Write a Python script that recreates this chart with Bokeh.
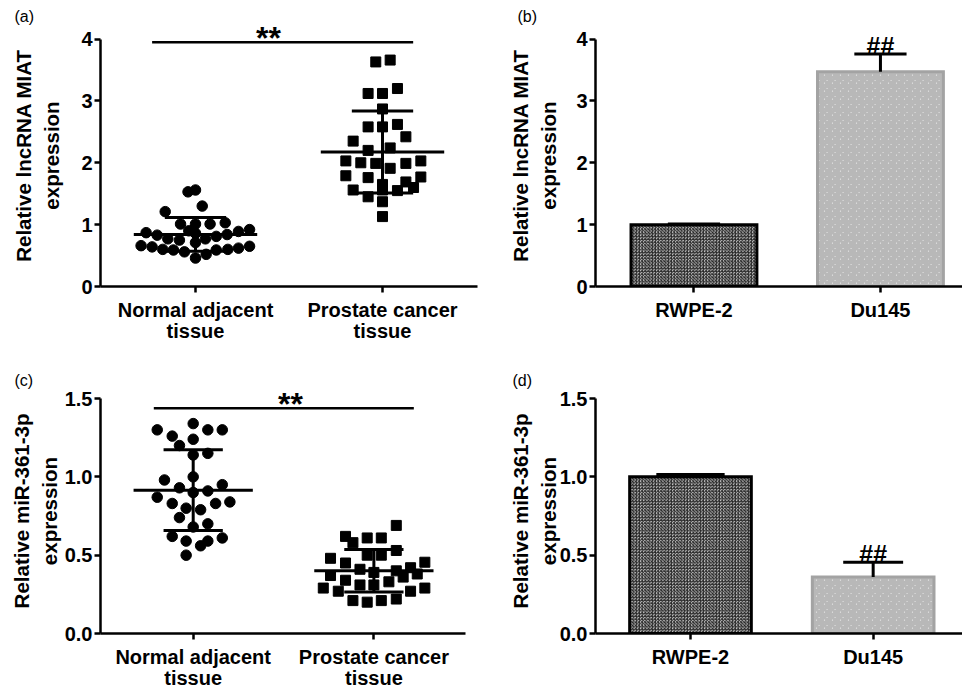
import numpy as np
from bokeh.plotting import figure
from bokeh.layouts import column, row
from bokeh.models import Range1d, FixedTicker, Label
from bokeh.embed import file_html
from bokeh.resources import INLINE

FONT = "Liberation Sans"

# ---------------- data ----------------
tissue_groups = ["Normal adjacent\ntissue", "Prostate cancer\ntissue"]
cell_lines = ["RWPE-2", "Du145"]
miat_ticks = [0, 1, 2, 3, 4]
miat_tick_labels = ["0", "1", "2", "3", "4"]
mir_ticks = [0.0, 0.5, 1.0, 1.5]
mir_tick_labels = ["0.0", "0.5", "1.0", "1.5"]
miat_ylabel = "Relative lncRNA MIAT\nexpression"
mir_ylabel = "Relative miR-361-3p\nexpression"

# (a) lncRNA MIAT in tissues
miat_normal = [1.53, 1.56, 1.30, 1.21, 1.01, 1.01, 1.01, 1.03, 0.90,
               0.87, 0.83, 0.77, 0.75, 0.86, 0.77, 0.81, 0.84, 0.89, 0.92,
               0.66, 0.64, 0.60, 0.59, 0.56, 0.71, 0.52, 0.59, 0.60, 0.62, 0.65, 0.46]
miat_normal_dodge = [-0.040, 0.0, 0.036, -0.162, -0.080, 0.0, 0.078, 0.159, -0.036,
                     -0.264, -0.205, -0.148, -0.086, 0.0, 0.053, 0.111, 0.169, 0.230, 0.289,
                     -0.291, -0.232, -0.175, -0.118, -0.059, 0.0, 0.057, 0.111, 0.173, 0.230, 0.289, 0.0]
miat_cancer = [3.63, 3.66, 3.12, 3.12, 3.20, 2.87, 2.58, 2.58, 2.62, 2.35, 2.42, 2.20, 2.24,
               2.03, 2.00, 1.99, 1.91, 1.99, 2.03, 1.79, 1.76, 1.65, 1.69, 1.77,
               1.56, 1.45, 1.56, 1.55, 1.60, 1.37, 1.13]
miat_cancer_dodge = [-0.036, 0.041, -0.077, 0.0, 0.080, 0.0, -0.077, 0.0, 0.080, -0.157, 0.125, -0.077, 0.041,
                     -0.196, -0.116, -0.036, 0.041, 0.125, 0.205, -0.196, -0.077, 0.0, 0.125, 0.205,
                     -0.157, -0.077, 0.0, 0.080, 0.166, 0.0, 0.0]

# (c) miR-361-3p in tissues
mir_normal = [1.34, 1.30, 1.26, 1.24, 1.30, 1.30, 1.20, 1.14, 1.15, 0.98, 1.00, 0.93, 0.91, 0.95, 0.90,
              0.87, 0.83, 0.80, 0.79, 0.83, 0.84, 0.74, 0.70, 0.68, 0.62, 0.59, 0.56, 0.59, 0.61, 0.50]
mir_normal_dodge = [0.0, -0.199, -0.116, 0.0, 0.081, 0.161, -0.076, 0.0, 0.081, -0.159, 0.0, -0.076, 0.081, 0.161, 0.0,
                    -0.199, -0.116, -0.039, 0.041, 0.124, 0.203, -0.076, 0.081, 0.0, -0.116, -0.039, 0.041, 0.081, 0.161, -0.039]
mir_cancer = [0.69, 0.62, 0.58, 0.61, 0.61, 0.53, 0.50, 0.50, 0.48, 0.45, 0.455, 0.41, 0.39, 0.40, 0.42,
              0.37, 0.34, 0.33, 0.36, 0.38, 0.29, 0.27, 0.31, 0.31, 0.27, 0.29, 0.21, 0.20, 0.21, 0.22]
mir_cancer_dodge = [0.124, -0.157, -0.116, -0.037, 0.041, 0.124, -0.037, 0.041, -0.240, -0.157, 0.282, -0.077, 0.0, 0.124, 0.203,
                    -0.240, -0.157, 0.083, 0.162, 0.240, -0.280, -0.197, -0.077, 0.0, 0.203, 0.282, -0.116, -0.037, 0.041, 0.124]

# (b), (d) cell lines: mean and error
miat_cell_mean = [1.00, 3.47]
miat_cell_err = [0.01, 0.29]
mir_cell_mean = [1.00, 0.36]
mir_cell_err = [0.015, 0.095]

# ---------------- layout geometry (page pixels) ----------------
A = dict(w=480, h=345, bl=100, br=3, bt=24, bb=58, xr=(0.492, 2.508), yr=(0, 4.235), std=15, tag_off=-86)
B = dict(w=482, h=345, bl=115, br=0, bt=24, bb=58, xr=(0.472, 2.440), yr=(0, 4.235), std=13, tag_off=-78)
C = dict(w=480, h=347, bl=100, br=15, bt=43, bb=52, xr=(0.487, 2.507), yr=(0, 1.564), std=1, tag_off=-86)
D = dict(w=482, h=347, bl=115, br=0, bt=43, bb=52, xr=(0.480, 2.489), yr=(0, 1.564), std=-3, tag_off=-83)


def dpx2dy(s, d):
    fh = s['h'] - s['bt'] - s['bb']
    return d * (s['yr'][1] - s['yr'][0]) / fh


def make_fig(s, tag, yticks, ylabels, xlabels, ybounds, ylabel):
    p = figure(width=s['w'], height=s['h'], x_range=Range1d(*s['xr']), y_range=Range1d(*s['yr']),
               output_backend="svg", toolbar_location=None, title=tag,
               min_border_left=s['bl'], min_border_right=s['br'],
               min_border_top=s['bt'], min_border_bottom=s['bb'])
    p.grid.visible = False
    p.outline_line_color = None
    p.background_fill_color = "white"
    p.border_fill_color = "white"
    p.title.align = "left"
    p.title.offset = s['tag_off']
    p.title.standoff = 0
    p.title.text_font = FONT
    p.title.text_font_style = "normal"
    p.title.text_font_size = "16px"
    p.title.text_color = "black"
    for ax in (p.xaxis[0], p.yaxis[0]):
        ax.axis_line_width = 2.5
        ax.axis_line_color = "black"
        ax.major_tick_line_width = 2.5
        ax.major_tick_line_color = "black"
        ax.major_tick_out = 6
        ax.major_tick_in = 0
        ax.minor_tick_line_color = None
        ax.major_label_text_font = FONT
        ax.major_label_text_font_style = "bold"
        ax.major_label_text_font_size = "20px"
        ax.major_label_text_color = "black"
    p.yaxis.ticker = FixedTicker(ticks=list(yticks))
    p.yaxis.major_label_overrides = {t: l for t, l in zip(yticks, ylabels)}
    p.yaxis.bounds = ybounds
    p.yaxis.major_label_standoff = 2
    p.yaxis.axis_label = ylabel
    p.yaxis.axis_label_text_font = FONT
    p.yaxis.axis_label_text_font_style = "bold"
    p.yaxis.axis_label_text_font_size = "20.5px"
    p.yaxis.axis_label_text_color = "black"
    p.yaxis.axis_label_text_line_height = 1.22
    p.yaxis.axis_label_standoff = s['std']
    p.xaxis.ticker = FixedTicker(ticks=[1, 2])
    p.xaxis.major_label_overrides = {1: xlabels[0], 2: xlabels[1]}
    p.xaxis.major_label_standoff = 6
    p.xaxis.major_label_text_line_height = 0.98
    return p


def add_text(p, x, y, text, size, baseline="middle"):
    p.add_layout(Label(x=x, y=y, text=text, text_font=FONT, text_font_size=size,
                       text_font_style="bold", text_color="black",
                       text_align="center", text_baseline=baseline))


def scatter_panel(s, tag, normal, ndodge, cancer, cdodge, yticks, ylabels, ybounds, ylabel,
                  sig_x, sig_y, star_x):
    p = make_fig(s, tag, yticks, ylabels, tissue_groups, ybounds, ylabel)
    for center, vals, dodge, marker, size in ((1, normal, ndodge, "circle", 10.5),
                                              (2, cancer, cdodge, "square", 10)):
        v = np.array(vals)
        xs = center + np.array(dodge)
        p.scatter(xs, v, marker=marker, size=size, fill_color="black", line_color="black")
        m = v.mean()
        sd = v.std(ddof=1)
        p.segment(x0=[center - 0.33], y0=[m], x1=[center + 0.33], y1=[m], line_width=3, line_color="black")
        p.segment(x0=[center - 0.164, center - 0.164], y0=[m + sd, m - sd],
                  x1=[center + 0.164, center + 0.164], y1=[m + sd, m - sd], line_width=3, line_color="black")
        p.segment(x0=[center], y0=[m - sd], x1=[center], y1=[m + sd], line_width=3, line_color="black")
    p.segment(x0=[sig_x[0]], y0=[sig_y], x1=[sig_x[1]], y1=[sig_y], line_width=2.5, line_color="black")
    add_text(p, star_x, sig_y + dpx2dy(s, 4), "**", "32px")
    return p


def bar_panel(s, tag, means, errs, yticks, ylabels, ybounds, ylabel, bar_w, caps):
    p = make_fig(s, tag, yticks, ylabels, cell_lines, ybounds, ylabel)
    styles = [dict(line_color="black", hatch_color="#1e1e1e", hatch_scale=3.2, hatch_weight=0.9),
              dict(line_color="#a3a3a3", hatch_color="#b8b8b8", hatch_scale=8.0, hatch_weight=3.2)]
    for i, st in enumerate(styles):
        xc = i + 1
        p.vbar(x=[xc], top=[means[i]], bottom=0, width=bar_w, fill_color="white",
               hatch_pattern="criss_cross", hatch_color=st['hatch_color'], hatch_scale=st['hatch_scale'],
               hatch_weight=st['hatch_weight'], line_color=st['line_color'], line_width=3, line_join="miter")
        top = means[i] + errs[i]
        p.segment(x0=[xc], y0=[means[i]], x1=[xc], y1=[top], line_width=3, line_color="black")
        p.segment(x0=[xc - caps[i]], y0=[top], x1=[xc + caps[i]], y1=[top], line_width=3, line_color="black")
    top2 = means[1] + errs[1]
    add_text(p, 2, top2 + dpx2dy(s, 8), "##", "25px", baseline="alphabetic")
    return p


pa = scatter_panel(A, "(a)", miat_normal, miat_normal_dodge, miat_cancer, miat_cancer_dodge,
                   miat_ticks, miat_tick_labels, (0, 4), miat_ylabel, (0.768, 2.164), 3.95, 1.39)
pb = bar_panel(B, "(b)", miat_cell_mean, miat_cell_err, miat_ticks, miat_tick_labels, (0, 4), miat_ylabel,
               0.675, (0.14, 0.14))
pc = scatter_panel(C, "(c)", mir_normal, mir_normal_dodge, mir_cancer, mir_cancer_dodge,
                   mir_ticks, mir_tick_labels, (0, 1.5), mir_ylabel, (0.782, 2.221), 1.438, 1.538)
pd_ = bar_panel(D, "(d)", mir_cell_mean, mir_cell_err, mir_ticks, mir_tick_labels, (0, 1.5), mir_ylabel,
                0.666, (0.187, 0.164))

layout = column(row(pa, pb), row(pc, pd_))
open("out.html", "w").write(file_html(layout, INLINE))
